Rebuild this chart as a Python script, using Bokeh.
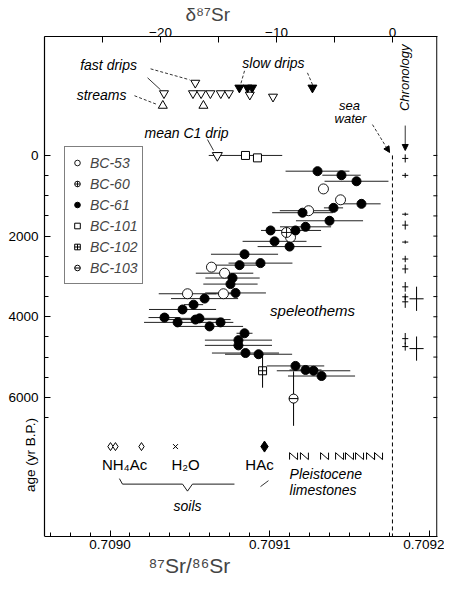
import numpy as np
from bokeh.plotting import figure
from bokeh.models import (Range1d, LinearAxis, FixedTicker, PrintfTickFormatter, Label, Title,
                          Arrow, NormalHead, Legend, LegendItem)
from bokeh.embed import file_html
from bokeh.resources import INLINE

FONT = "Liberation Sans"

# ---------------- data ----------------
bc61_sr = [0.7091299, 0.7091449, 0.7091543, 0.7091574, 0.7091399, 0.7091205, 0.7091374, 0.7091224,
           0.7091005, 0.7091161, 0.7091030, 0.7091124, 0.7090842, 0.7090942, 0.7090811, 0.7090767,
           0.7090754, 0.7090786, 0.7090592, 0.7090523, 0.7090454, 0.7090341, 0.7090423, 0.7090535,
           0.7090560, 0.7090623, 0.7090692, 0.7090842, 0.7090804, 0.7090804, 0.7090848, 0.7090930,
           0.7091161, 0.7091224, 0.7091274, 0.7091324]
bc61_age = [390, 490, 640, 1200, 1300, 1420, 1620, 1770, 1860, 1860, 2130, 2260, 2450, 2670, 2720, 3040,
            3190, 3410, 3550, 3700, 3820, 4020, 4140, 4070, 4040, 4240, 4140, 4410, 4580, 4710, 4900, 4930,
            5220, 5320, 5340, 5470]
bc61_err = [2.0e-5, 1.2e-5, 2.0e-5, 1.2e-5, 0.6e-5, 1.9e-5, 2.1e-5, 1.6e-5, 0.6e-5, 1.6e-5, 2.0e-5, 2.0e-5,
            2.1e-5, 2.0e-5, 1.6e-5, 1.7e-5, 1.7e-5, 1.9e-5, 2.1e-5, 0.6e-5, 2.1e-5, 1.0e-5, 2.1e-5, 2.2e-5,
            1.5e-5, 2.1e-5, 0.8e-5, 0.5e-5, 2.1e-5, 2.1e-5, 2.1e-5, 2.1e-5, 1.8e-5, 1.0e-5, 2.3e-5, 2.1e-5]

bc53_sr = [0.7091336, 0.7091443, 0.7091243, 0.7091130, 0.7090635, 0.7090717, 0.7090710, 0.7090485]
bc53_age = [830, 1100, 1370, 2030, 2770, 2920, 3430, 3430]
bc53_err = [0.0, 0.0, 1.8e-5, 0.0, 0.0, 1.8e-5, 1.0e-5, 1.8e-5]

bc60_sr = [0.7091105]
bc60_age = [1910]

bc101_sr = [0.7090848, 0.7090923]
bc101_age = [0, 60]
bc101_err = [2.3e-5, 0.0]

bc102_sr = [0.7090955]
bc102_age = [5340]
bc102_age_err = [420]

bc103_sr = [0.7091149]
bc103_age = [6030]
bc103_age_err = [675]

seawater_sr = 0.7091768

# waters, on the delta-87Sr scale
drip_mean_delta = [-15.1]
drip_mean_age = [0]
stream_delta = [-19.8, -16.3]
stream_age = [-1235, -1235]
fast_delta = [-19.7, -17.0, -17.2, -16.5, -15.7, -14.8, -14.1, -12.3, -10.3]
fast_age = [-1540, -1800, -1540, -1540, -1540, -1540, -1540, -1505, -1455]
slow_delta = [-13.2, -12.5, -12.1, -6.9]
slow_age = [-1680, -1680, -1680, -1680]

# soils and limestones
nh4ac_sr = [0.7090003, 0.7090034, 0.7090197]
h2o_sr = [0.7090410]
hac_sr = [0.7090967]
soil_age = 7220
pleist_sr = [0.7091149, 0.7091217, 0.7091343, 0.7091437, 0.7091499, 0.7091562, 0.7091631, 0.7091681]
pleist_age = 7457

# chronology
chron_sr = 0.7091848
chron_age = [74, 494, 1457, 1728, 2148, 2568, 2815, 3259, 3506, 3630, 4543, 4740]
chron_err = [100, 60, 40, 110, 40, 80, 110, 120, 80, 150, 140, 100]
chron2_sr = 0.7091919
chron2_age = [3555, 4790]
chron2_err = [300, 300]

x_ticks = [0.7090, 0.7091, 0.7092]
y_ticks = [0, 2000, 4000, 6000]
d_ticks = [-20, -10, 0]
right_ticks = list(range(0, 7000, 500))

# ---------------- figure ----------------
XL, X1 = 0.708959, 0.709205        # visible plotting box
X0 = 0.7089327                      # canvas room left of the box for the age title
Y0, Y1 = -2950, 9450
p = figure(width=444, height=578, title=None, y_axis_location=None,
           x_range=Range1d(X0, X1), y_range=Range1d(Y1, Y0),
           output_backend="svg", toolbar_location=None,
           min_border_left=2, min_border_right=7, min_border_top=36, min_border_bottom=42)
p.xgrid.visible = False
p.ygrid.visible = False
p.outline_line_color = None
p.background_fill_color = "white"
p.border_fill_color = "white"

def style_axis(ax, standoff):
    ax.major_tick_in = 6
    ax.major_tick_out = 0
    ax.minor_tick_in = 4
    ax.minor_tick_out = 0
    ax.axis_line_color = "black"
    ax.axis_line_width = 1.2
    ax.major_tick_line_color = "black"
    ax.minor_tick_line_color = "black"
    ax.major_label_text_font = FONT
    ax.major_label_text_font_size = "13.5px"
    ax.major_label_text_color = "black"
    ax.major_label_standoff = standoff

p.xaxis.ticker = FixedTicker(ticks=x_ticks,
                             minor_ticks=list(np.arange(0.7089625, 0.709201, 0.0000125)))
p.xaxis.formatter = PrintfTickFormatter(format="%.4f")
p.xaxis.bounds = (XL, X1)
style_axis(p.xaxis[0], 3)

ax_y = LinearAxis(fixed_location=XL,
                  ticker=FixedTicker(ticks=y_ticks, minor_ticks=list(range(0, 7000, 500))))
style_axis(ax_y, 6)
p.add_layout(ax_y, "left")

p.extra_x_ranges = {"delta": Range1d(-33.62, 3.88)}
ax_top = LinearAxis(x_range_name="delta", bounds=(-30.0, 3.88),
                    ticker=FixedTicker(ticks=d_ticks, minor_ticks=[-30, -25, -15, -5]))
style_axis(ax_top, 0)
ax_top.minor_tick_in = 6
p.add_layout(ax_top, "above")

# axis titles
p.add_layout(Title(text="\u03b4\u2078\u2077Sr", align="left", offset=183, standoff=0,
                   text_font=FONT, text_font_size="19px", text_font_style="normal"), "above")
p.add_layout(Title(text="\u2078\u2077Sr/\u2078\u2076Sr", align="left", offset=146, standoff=0,
                   text_font=FONT, text_font_size="21px", text_font_style="normal"), "below")

LC = "black"
a = np.array

def lab(x, y, t, size="14px", style="italic", align="center", angle=0):
    p.add_layout(Label(x=x, y=y, text=t, text_font=FONT, text_font_size=size, text_font_style=style,
                       text_align=align, text_baseline="middle", angle=angle, text_color="black"))

lab(0.7089500, 7430, "age (yr B.P.)", size="13.5px", style="normal", angle=np.pi / 2)

# ---------------- marks ----------------
# right-hand side of the box and its ticks
p.segment([X1 - 4e-7], [Y0], [X1 - 4e-7], [Y1], line_color=LC, line_width=1.2)
p.segment([X1 - 2.6e-6] * len(right_ticks), right_ticks, [X1] * len(right_ticks), right_ticks,
          line_color=LC, line_width=1)

p.segment(a(bc61_sr) - a(bc61_err), bc61_age, a(bc61_sr) + a(bc61_err), bc61_age, line_color="#222222", line_width=1)
p.segment(a(bc53_sr) - a(bc53_err), bc53_age, a(bc53_sr) + a(bc53_err), bc53_age, line_color="#222222", line_width=1)
p.segment(a(bc101_sr) - a(bc101_err), bc101_age, a(bc101_sr) + a(bc101_err), bc101_age, line_color="#222222", line_width=1)
p.segment(bc102_sr, a(bc102_age) - a(bc102_age_err), bc102_sr, a(bc102_age) + a(bc102_age_err), line_color=LC, line_width=1)
p.segment(bc103_sr, a(bc103_age) - a(bc103_age_err), bc103_sr, a(bc103_age) + a(bc103_age_err), line_color=LC, line_width=1)

# sea water
p.segment([seawater_sr], [0], [seawater_sr], [Y1], line_color=LC, line_dash="4 3", line_width=1)

r53 = p.scatter(bc53_sr, bc53_age, marker="circle", size=10, fill_color="white", line_color=LC, line_width=0.9)
r60 = p.scatter(bc60_sr, bc60_age, marker="circle_cross", size=10, fill_color="white", line_color=LC, line_width=0.9)
r61 = p.scatter(bc61_sr, bc61_age, marker="circle", size=9, fill_color=LC, line_color=LC)
r101 = p.scatter(bc101_sr, bc101_age, marker="square", size=8, fill_color="white", line_color=LC, line_width=1)
r102 = p.scatter(bc102_sr, bc102_age, marker="square_cross", size=8, fill_color="white", line_color=LC, line_width=1)
r103a = p.scatter(bc103_sr, bc103_age, marker="circle", size=9, fill_color="white", line_color=LC, line_width=1)
r103b = p.scatter(bc103_sr, bc103_age, marker="dash", size=9, line_color=LC, line_width=1)

# waters (delta scale)
p.scatter(drip_mean_delta, drip_mean_age, x_range_name="delta", marker="inverted_triangle", size=10,
          fill_color="white", line_color=LC)
p.scatter(stream_delta, stream_age, x_range_name="delta", marker="triangle", size=9,
          fill_color="white", line_color=LC)
p.scatter(fast_delta, fast_age, x_range_name="delta", marker="inverted_triangle", size=9,
          fill_color="white", line_color=LC)
p.scatter(slow_delta, slow_age, x_range_name="delta", marker="inverted_triangle", size=9,
          fill_color=LC, line_color=LC)

# soils
p.scatter(nh4ac_sr, [soil_age] * len(nh4ac_sr), marker="diamond", size=8, fill_color="white", line_color=LC)
p.scatter(h2o_sr, [soil_age] * len(h2o_sr), marker="x", size=7, line_color=LC)
p.scatter(hac_sr, [soil_age] * len(hac_sr), marker="diamond", size=11, fill_color=LC, line_color=LC)

# Pleistocene limestones: N-shaped symbols
dx, dy = 2.5e-6, 86
xs = [[x - dx, x - dx, x + dx, x + dx] for x in pleist_sr]
ys = [[pleist_age + dy, pleist_age - dy, pleist_age + dy, pleist_age - dy] for x in pleist_sr]
p.multi_line(xs, ys, line_color=LC, line_width=1)

# chronology crosses
ca, ce = a(chron_age), a(chron_err)
p.segment([chron_sr] * len(ca), ca - ce, [chron_sr] * len(ca), ca + ce, line_color=LC, line_width=1)
p.segment([chron_sr - 1.9e-6] * len(ca), ca, [chron_sr + 1.9e-6] * len(ca), ca, line_color=LC, line_width=1)
c2a, c2e = a(chron2_age), a(chron2_err)
p.segment([chron2_sr] * len(c2a), c2a - c2e, [chron2_sr] * len(c2a), c2a + c2e, line_color=LC, line_width=1)
p.segment([chron2_sr - 4.4e-6] * len(c2a), c2a, [chron2_sr + 4.4e-6] * len(c2a), c2a, line_color=LC, line_width=1)

# ---------------- annotations ----------------
lab(0.7089947, -1506, "streams")
lab(0.7089991, -2247, "fast drips")
lab(0.7091023, -2296, "slow drips")
lab(0.7090479, -568, "mean C1 drip")
lab(0.7091499, -1235, "sea", size="13px")
lab(0.7091505, -905, "water", size="13px")
lab(0.7091843, -1926, "Chronology", size="13px", angle=np.pi / 2)
lab(0.7091268, 3852, "speleothems", size="15px")
lab(0.7090091, 7667, "NH\u2084Ac", size="15px", style="normal")
lab(0.7090473, 7667, "H\u2082O", size="15px", style="normal")
lab(0.7090936, 7667, "HAc", size="15px", style="normal")
lab(0.7091124, 7903, "Pleistocene", align="left")
lab(0.7091124, 8288, "limestones", align="left")
lab(0.7090485, 8697, "soils")

# leader lines
p.segment([0.7090153], [-1481], [0.7090298], [-1259], line_color=LC, line_width=0.8, line_dash="3 2")
p.segment([0.7090235], [-1926], [0.7090316], [-1630], line_color=LC, line_width=0.8)
p.segment([0.7090254], [-2148], [0.7090498], [-1877], line_color=LC, line_width=0.8, line_dash="3 2")
p.segment([0.7090842], [-2099], [0.7090817], [-1753], line_color=LC, line_width=0.8, line_dash="3 2")
p.segment([0.7091236], [-2049], [0.7091268], [-1753], line_color=LC, line_width=0.8, line_dash="3 2")
p.segment([0.7090610], [-395], [0.7090648], [-123], line_color=LC, line_width=0.8)
p.segment([0.7090942], [8213], [0.7090992], [8065], line_color=LC, line_width=0.8)

# soils brace
p.line([0.7090059, 0.7090078, 0.7090454, 0.7090485, 0.7090516, 0.7090779],
       [8015, 8151, 8151, 8325, 8151, 8151], line_color=LC, line_width=0.9)

# arrows
p.add_layout(Arrow(end=NormalHead(size=6, fill_color=LC, line_color=LC), line_width=0.8,
                   x_start=0.7091643, y_start=-765, x_end=0.7091750, y_end=-74, line_dash="3 2"))
p.add_layout(Arrow(end=NormalHead(size=6, fill_color=LC, line_color=LC), line_width=0.8,
                   x_start=chron_sr, y_start=-741, x_end=chron_sr, y_end=-123))

# legend
legend = Legend(items=[LegendItem(label="BC-53", renderers=[r53]),
                       LegendItem(label="BC-60", renderers=[r60]),
                       LegendItem(label="BC-61", renderers=[r61]),
                       LegendItem(label="BC-101", renderers=[r101]),
                       LegendItem(label="BC-102", renderers=[r102]),
                       LegendItem(label="BC-103", renderers=[r103a, r103b])],
                location=(62, 252), label_text_font=FONT, label_text_font_size="14px",
                label_text_font_style="italic", label_height=21, glyph_height=21, glyph_width=14,
                spacing=0, padding=5, margin=0, label_standoff=6,
                border_line_color="black", border_line_width=1, background_fill_alpha=1)
p.add_layout(legend)

open("out.html", "w").write(file_html(p, INLINE))
